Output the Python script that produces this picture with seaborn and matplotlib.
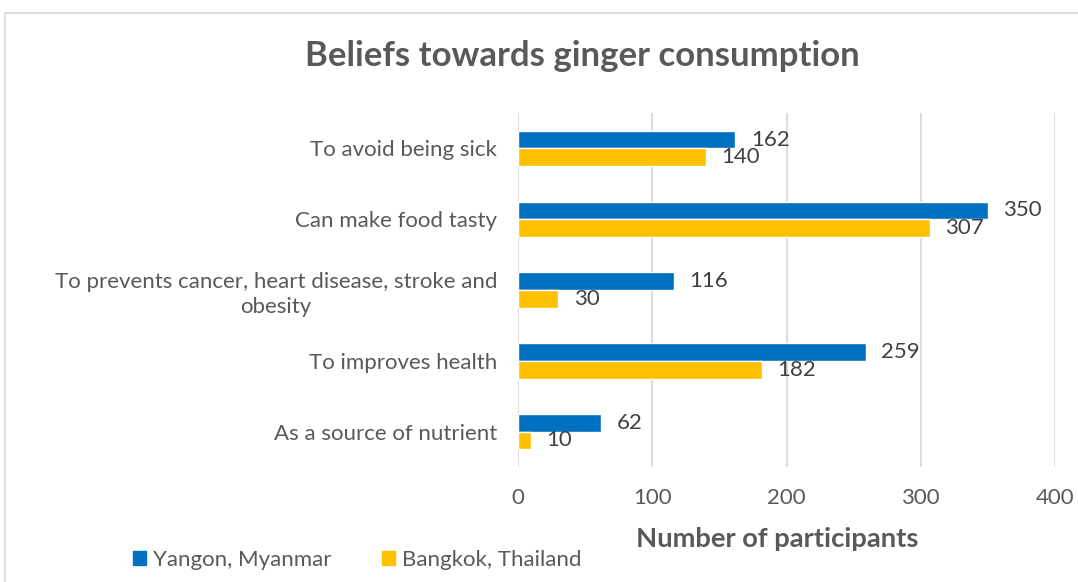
import matplotlib
matplotlib.use("Agg")
import matplotlib.pyplot as plt
import matplotlib.patches as mpatches
import seaborn as sns
import pandas as pd

categories = [
    "To avoid being sick",
    "Can make food tasty",
    "To prevents cancer, heart disease, stroke and\nobesity",
    "To improves health",
    "As a source of nutrient",
]
series_names = ["Yangon, Myanmar", "Bangkok, Thailand"]
yangon = [162, 350, 116, 259, 62]
bangkok = [140, 307, 30, 182, 10]
x_ticks = [0, 100, 200, 300, 400]
colors = ["#0070C0", "#FFC000"]

df = pd.DataFrame({
    "Category": categories * 2,
    "Series": [series_names[0]] * len(categories) + [series_names[1]] * len(categories),
    "Value": yangon + bangkok,
})

sns.set_theme(style="white")
plt.rcParams["font.family"] = ["Lato", "DejaVu Sans"]

FS = 16
W, H = 1078, 582
fig = plt.figure(figsize=(W / 100, H / 100), dpi=100)
ax = fig.add_axes([518 / W, 1 - 467 / H, (1055 - 518) / W, (467 - 113) / H])

sns.barplot(data=df, y="Category", x="Value", hue="Series", order=categories,
            hue_order=series_names, palette=colors, orient="h", width=0.5,
            saturation=1, ax=ax, legend=False, errorbar=None)

for c in ax.containers:
    ax.bar_label(c, padding=11, fontsize=FS, color="#404040")

ax.set_xlim(0, 400)
ax.set_ylim(4.5, -0.5)
ax.set_xticks(x_ticks)
ax.set_xticklabels([str(t) for t in x_ticks])
ax.grid(axis="x", color="#D9D9D9", linewidth=1.3)
ax.set_axisbelow(True)
for s in ax.spines.values():
    s.set_visible(False)
ax.tick_params(axis="both", length=0, labelsize=FS, labelcolor="#595959")
ax.tick_params(axis="y", pad=15)
ax.tick_params(axis="x", pad=15)
for lab in ax.get_yticklabels():
    lab.set_multialignment("center")
    lab.set_linespacing(1.3)
ax.set_xlabel("")
ax.set_ylabel("")

fig.text(582 / W, 1 - 56 / H, "Beliefs towards ginger consumption", ha="center", va="center",
         fontsize=25, fontweight="bold", color="#595959")
fig.text(777 / W, 1 - 539 / H, "Number of participants", ha="center", va="center",
         fontsize=19.7, fontweight="bold", color="#595959")

handles = [mpatches.Patch(color=colors[i], label=series_names[i]) for i in range(2)]
fig.legend(handles=handles, loc="center left", bbox_to_anchor=(133 / W, 1 - 560 / H), ncol=2,
           frameon=False, fontsize=FS, labelcolor="#595959", handlelength=0.6,
           handleheight=0.6, handletextpad=0.3, columnspacing=2.25, borderaxespad=0, borderpad=0)

fig.add_artist(mpatches.Rectangle((5 / W, -0.1), 1.2, 1 - 13 / H + 0.1, transform=fig.transFigure,
                                  fill=False, edgecolor="#D9D9D9", linewidth=1.3))

fig.savefig("out.png", dpi=100)
